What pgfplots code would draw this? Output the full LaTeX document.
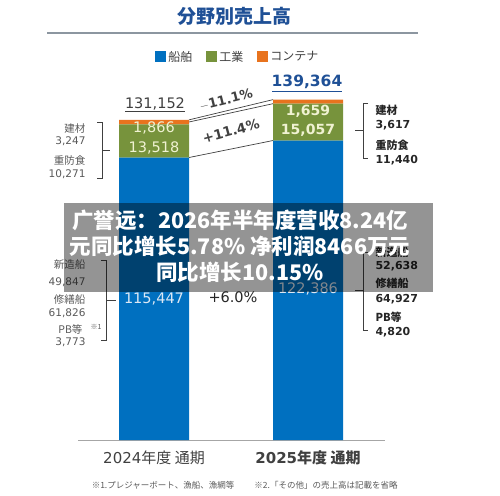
\documentclass[border=0pt]{standalone}
\usepackage{fontspec}
\setmainfont{DejaVu Sans}
\newfontfamily\jp{Noto Sans CJK JP}
\newfontfamily\cnfont{Noto Sans CJK SC}
\usepackage{pgfplots}
\pgfplotsset{compat=1.18}
\definecolor{cBlue}{HTML}{0070C0}
\definecolor{cGreen}{HTML}{77933C}
\definecolor{cOrange}{HTML}{E8731E}
\definecolor{cTitle}{HTML}{1F5096}
\definecolor{cDark}{HTML}{404040}
\definecolor{cMid}{HTML}{595959}
\definecolor{cCream}{HTML}{F0F2D2}
\definecolor{cLightBlue}{HTML}{DDE8F4}
\definecolor{cRule}{HTML}{8C96A0}
\pgfplotsset{sq/.style={legend image code/.code={\fill[##1] (0pt,-5.5pt) rectangle (11pt,5.5pt);}}}
\newcommand\fs[2]{\fontsize{#1}{#2}\selectfont}
\begin{document}
\begin{tikzpicture}[x=1pt,y=1pt]
\path[use as bounding box] (0,0) rectangle (500,495);
\begin{axis}[at={(78pt,55pt)}, anchor=south west, scale only axis,
  width=307pt, height=380pt,
  xmin=-0.4935, xmax=1.5, ymin=0, ymax=155300,
  ybar stacked, bar width=70pt,
  hide y axis, axis x line*=bottom,
  x axis line style={draw=black!35, line width=0.8pt},
  xtick={0,1}, major tick length=0pt,
  xticklabels={{2024{\jp 年度 通期}},{\bfseries 2025{\jp\bfseries 年度 通期}}},
  xticklabel style={font=\fs{15}{18}, text=cDark, yshift=-7pt},
  legend style={at={(0.521,1.008)}, anchor=center, draw=none, fill=none,
    legend columns=3, font=\jp\fs{12}{14}, text=cDark,
    /tikz/every even column/.append style={column sep=12pt}},
  ]
\addplot[fill=cBlue, draw=none, sq] coordinates {(0,115447) (1,122386)};
\addplot[fill=cGreen, draw=none, sq] coordinates {(0,13518) (1,15057)};
\addplot[fill=cOrange, draw=none, sq] coordinates {(0,1866) (1,1659)};
\legend{船舶,工業,コンテナ}
\draw[cDark, line width=0.7pt] (axis cs:0.2273,130831) -- (axis cs:0.7727,139102);
\draw[cDark, line width=0.7pt] (axis cs:0.2273,129965) -- (axis cs:0.7727,137443);
\draw[cDark, line width=0.7pt] (axis cs:0.2273,115447) -- (axis cs:0.7727,122386);
\end{axis}
\begin{scope}[shift={(0,495)}, yscale=-1]
% title
\node[font=\jp\bfseries\fs{19}{22}, text=cTitle] at (234.5,16) {分野別売上高};
\draw[cRule, line width=1.2pt] (47,33) -- (418,33);
% totals
\node[font=\fs{14.5}{17}, text=cDark] at (155,104) {131,152};
\draw[cDark, line width=0.7pt] (125,111) -- (185,111);
\node[font=\bfseries\fs{15.5}{18}, text=cTitle] at (307,82) {139,364};
\draw[cTitle, line width=0.8pt] (272,91) -- (342,91);
% in-bar values
\node[font=\fs{14.5}{17}, text=cCream] at (154,127.5) {1,866};
\node[font=\fs{14.5}{17}, text=cCream] at (154,147.5) {13,518};
\node[font=\bfseries\fs{14}{17}, text=cCream] at (308,111.5) {1,659};
\node[font=\bfseries\fs{14}{17}, text=cCream] at (308,130.5) {15,057};
\node[font=\fs{14.5}{17}, text=cLightBlue] at (154,299) {115,447};
\node[font=\fs{14.5}{17}, text=cLightBlue] at (308,289) {122,386};
% growth rates
\node[font=\bfseries\fs{13}{16}, text=cDark, rotate=14] at (226,100) {$-$11.1\%};
\node[font=\bfseries\fs{13.5}{16}, text=cDark, rotate=15] at (231,131) {+11.4\%};
\node[font=\fs{14.5}{17}, text=black!85] at (233,297) {+6.0\%};
% brackets
\draw[cDark, line width=0.7pt] (97,122) -- (102,122) -- (102,178) -- (97,178);
\draw[cDark, line width=0.7pt] (102,150) -- (110,150);
\draw[cDark, line width=0.7pt] (101,260) -- (106,260) -- (106,340) -- (101,340);
\draw[cDark, line width=0.7pt] (106,300) -- (116,300);
\draw[cDark, line width=0.7pt] (368,103) -- (363,103) -- (363,158) -- (368,158);
\draw[cDark, line width=0.7pt] (363,130) -- (355,130);
\draw[cDark, line width=0.7pt] (368,252) -- (363,252) -- (363,330) -- (368,330);
\draw[cDark, line width=0.7pt] (363,290) -- (355,290);
% left notes
\begin{scope}[every node/.style={anchor=east, text=cMid, font=\fs{10.5}{12}}]
\node[font=\jp\fs{10.5}{12}] at (89,129) {建材};
\node at (89,141) {3,247};
\node[font=\jp\fs{10.5}{12}] at (89,161) {重防食};
\node at (89,174) {10,271};
\node[font=\jp\fs{10.5}{12}] at (89,265) {新造船};
\node at (89,282) {49,847};
\node[font=\jp\fs{10.5}{12}] at (89,300) {修繕船};
\node at (89,313) {61,826};
\node[font=\jp\fs{10.5}{12}] at (86,329) {PB等};
\node at (89,342) {3,773};
\end{scope}
\node[font=\jp\fs{7}{8}, text=cMid] at (96,327) {※1};
% right notes
\begin{scope}[every node/.style={anchor=west, text=black!85, font=\bfseries\fs{11}{13}}]
\node[font=\jp\bfseries\fs{11}{13}] at (372,110) {建材};
\node at (372,125) {3,617};
\node[font=\jp\bfseries\fs{11}{13}] at (372,145) {重防食};
\node at (372,160) {11,440};
\node[font=\jp\bfseries\fs{11}{13}] at (372,252) {新造船};
\node at (372,266) {52,638};
\node[font=\jp\bfseries\fs{11}{13}] at (372,283) {修繕船};
\node at (372,299) {64,927};
\node[font=\jp\bfseries\fs{11}{13}] at (372,317) {PB等};
\node at (372,332) {4,820};
\end{scope}
% footnotes
\node[font=\jp\fs{8.5}{10}, text=cMid] at (163,485) {※1.プレジャーボート、漁船、漁網等};
\node[font=\jp\fs{8.5}{10}, text=cMid] at (326,485) {※2.「その他」の売上高は記載を省略};
% overlay banner
\fill[black, opacity=0.42] (64,203) rectangle (433,292);
\node[align=center, text=white, font=\cnfont\bfseries\fs{21.5}{26}] at (240,246.5)
  {广誉远：2026年半年度营收8.24亿\\元同比增长5.78\% 净利润8466万元\\同比增长10.15\%};
\end{scope}
\end{tikzpicture}
\end{document}
